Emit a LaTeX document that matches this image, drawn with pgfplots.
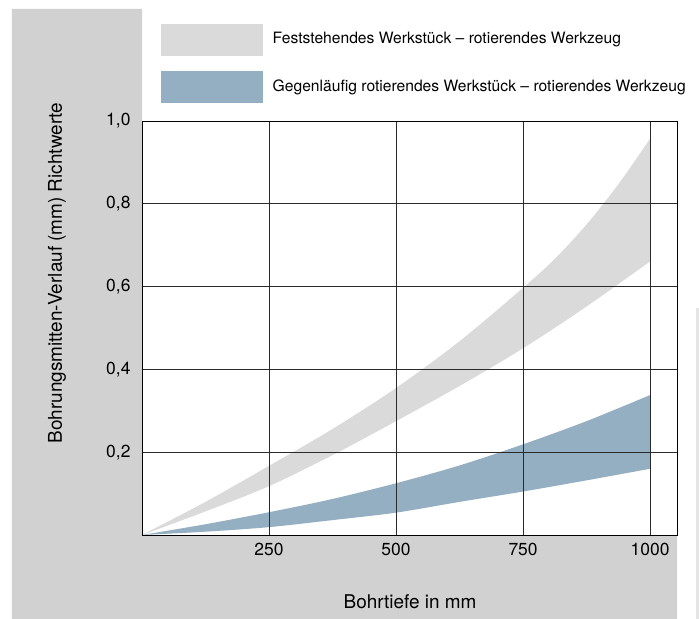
\documentclass[border=0pt]{standalone}
\usepackage{fontspec}
\setmainfont{TeX Gyre Heros}
\usepackage{pgfplots}
\pgfplotsset{compat=1.18}
\usepgfplotslibrary{fillbetween}
\definecolor{bggray}{HTML}{D1D1D1}
\definecolor{bandgray}{HTML}{DADADA}
\definecolor{bandblue}{HTML}{94AFC1}
\definecolor{gridc}{HTML}{2A2A2A}
\begin{document}
\begin{tikzpicture}
\fill[bggray] (-130bp,-84bp) -- (535bp,-84bp) -- (535bp,0bp) -- (0bp,0bp) -- (0bp,526bp) -- (-130bp,526bp) -- cycle;
\fill[black!10] (554bp,-84bp) rectangle (557bp,227bp);
\begin{axis}[
  at={(0bp,0bp)}, anchor=south west,
  scale only axis, width=535bp, height=414bp,
  xmin=0, xmax=1053, ymin=0, ymax=1.0,
  xtick={250,500,750,1000}, ytick={0.2,0.4,0.6,0.8,1.0},
  major tick length=0pt,
  grid=major,
  grid style={gridc, line width=0.7pt},
  axis line style={black, line width=0.8pt},
  axis on top,
  axis background/.style={fill=white},
  /pgf/number format/assume math mode=true,
  tick label style={font=\fontsize{17.5}{20}\selectfont},
  xticklabel style={/pgf/number format/1000 sep={}, yshift=-5bp},
  yticklabel style={/pgf/number format/.cd, use comma, fixed, fixed zerofill, precision=1, /tikz/.cd, xshift=-8bp},
  xlabel={Bohrtiefe in mm},
  ylabel={Bohrungsmitten-Verlauf (mm) Richtwerte},
  every axis x label/.style={at={(axis description cs:0.501,-0.162)}, anchor=center, font=\fontsize{19}{22}\selectfont},
  every axis y label/.style={at={(axis description cs:-0.159,0.633)}, anchor=center, rotate=90, font=\fontsize{19}{22}\selectfont},
]
\addplot[name path=gu, draw=none, smooth] coordinates {
 (0,0) (125,0.080) (250,0.167) (375,0.256) (500,0.355) (625,0.468) (750,0.597) (812.5,0.667) (875,0.750) (937.5,0.847) (1000,0.957)};
\addplot[name path=gl, draw=none, smooth] coordinates {
 (0,0) (125,0.057) (250,0.118) (375,0.193) (500,0.275) (625,0.360) (750,0.451) (875,0.552) (1000,0.661)};
\addplot[fill=bandgray, draw=none] fill between[of=gu and gl];
\addplot[name path=bu, draw=none, smooth] coordinates {
 (0,0) (125,0.026) (250,0.055) (375,0.087) (500,0.125) (625,0.168) (750,0.219) (875,0.275) (1000,0.338)};
\addplot[name path=bl, draw=none, smooth] coordinates {
 (0,0) (125,0.008) (250,0.019) (375,0.036) (500,0.054) (625,0.080) (750,0.105) (875,0.132) (1000,0.160)};
\addplot[fill=bandblue, draw=none] fill between[of=bu and bl];
\end{axis}
\fill[bandgray] (19bp,479bp) rectangle (121bp,511bp);
\fill[bandblue] (19bp,432bp) rectangle (121bp,464bp);
\node[anchor=west, inner sep=0pt, font=\fontsize{15.7}{19}\selectfont] at (130.5bp,495bp) {Feststehendes Werkstück – rotierendes Werkzeug};
\node[anchor=west, inner sep=0pt, font=\fontsize{15.7}{19}\selectfont] at (130.5bp,448bp) {Gegenläufig rotierendes Werkstück – rotierendes Werkzeug};
\useasboundingbox (-142bp,-84bp) rectangle (557bp,535bp);
\end{tikzpicture}
\end{document}
